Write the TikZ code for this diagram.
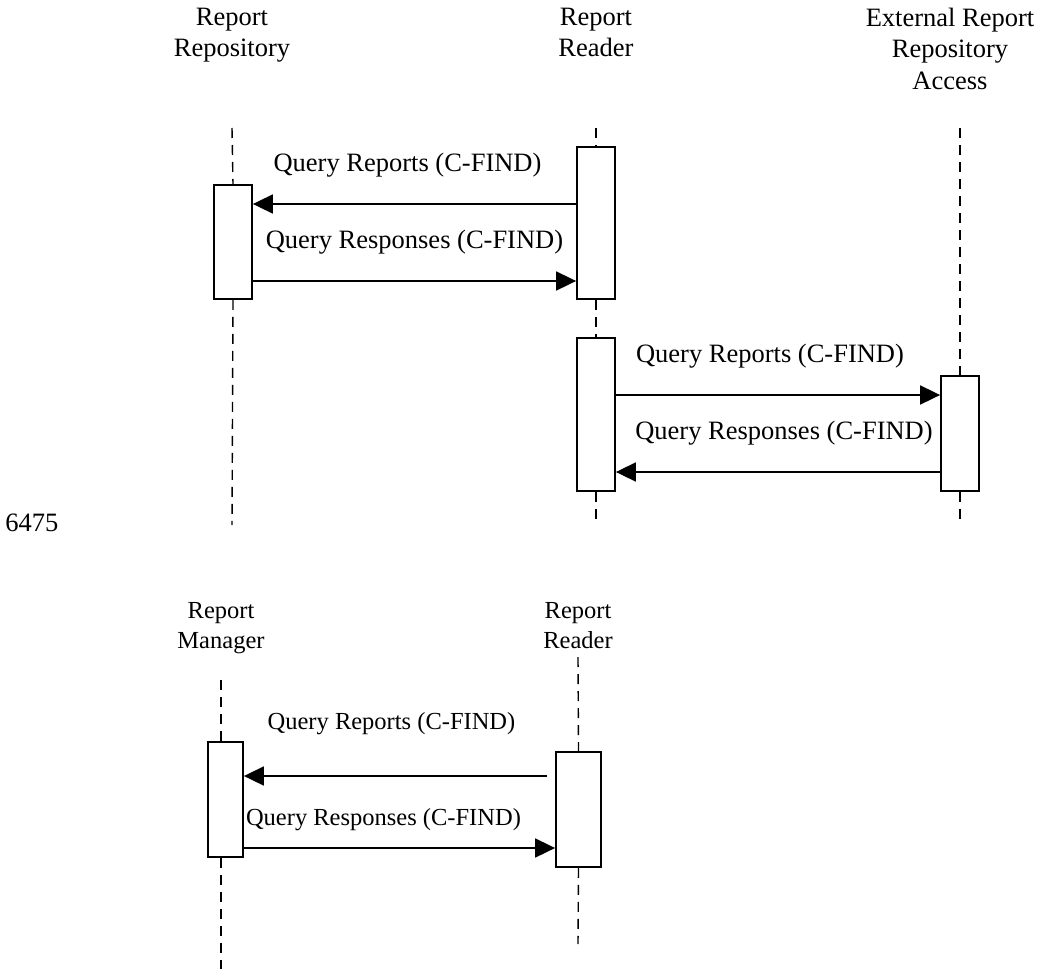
\documentclass[tikz,border=0pt]{standalone}
\usepackage{fontspec}
\setmainfont{Liberation Serif}
\usepackage{tikz}
\usetikzlibrary{arrows.meta, positioning}

\begin{document}
\begin{tikzpicture}[x=0.5pt, y=-0.5pt,
            head/.style={align=center, inner sep=0pt, anchor=north, font=\fontsize{13.25}{15.6}\selectfont},
            headsm/.style={align=center, inner sep=0pt, anchor=north, font=\fontsize{12.25}{15}\selectfont},
            lifeline/.style={line width=0.7pt, dash pattern=on 5pt off 3.5pt},
            actbox/.style={draw, rectangle, line width=0.9pt, fill=white, minimum width=19pt, inner sep=0pt},
            msg/.style={line width=0.9pt, -{Triangle[length=10pt, width=9.5pt]}},
            lbl/.style={inner sep=0pt, font=\fontsize{13.25}{15.5}\selectfont},
            lblsm/.style={inner sep=0pt, font=\fontsize{12.25}{15}\selectfont}]
            \useasboundingbox (0,0) rectangle (1038,969);

            % Headers, upper diagram
            \node (repo) [head] at (232,8) {Report\\Repository};
            \node (reader) [head] at (596,8) {Report\\Reader};
            \node (extacc) [head] at (950,8) {External Report\\Repository\\Access};
            \node (fignum) [lbl, anchor=west] at (5,523) {6475};

            % Activations
            \node (repoact) [actbox, minimum height=57pt] at (233,242) {};
            \node (readact) [actbox, minimum height=76pt] at (596,223) {};
            \node (readact2) [actbox, minimum height=76.5pt] at (596,414.5) {};
            \node (extact) [actbox, minimum height=57.5pt] at (960,433.5) {};

            % Lifelines
            \draw [lifeline] (repo.south |- 0,128) -- (repoact.north);
            \draw [lifeline] (repoact.south) -- (repo.south |- 0,525);
            \draw [lifeline] (reader.south |- 0,128) -- (readact.north);
            \draw [lifeline] (readact.south) -- (readact2.north);
            \draw [lifeline] (readact2.south) -- (reader.south |- 0,525);
            \draw [lifeline] (extact.center |- 0,128) -- (extact.north);
            \draw [lifeline] (extact.south) -- (extact.center |- 0,525);

            % Messages
            \draw [msg] (readact.west |- 0,204) -- node[lbl, above=13pt, xshift=-3.5pt] {Query Reports (C-FIND)} (repoact.east |- 0,204);
            \draw [msg] (repoact.east |- 0,281) -- node[lbl, above=13pt] {Query Responses (C-FIND)} (readact.west |- 0,281);
            \draw [msg] (readact2.east |- 0,395) -- node[lbl, above=13pt, xshift=-4pt] {Query Reports (C-FIND)} (extact.west |- 0,395);
            \draw [msg] (extact.west |- 0,472) -- node[lbl, above=13pt, xshift=3pt] {Query Responses (C-FIND)} (readact2.east |- 0,472);

            % Lower diagram
            \node (manager) [headsm] at (221,602) {Report\\Manager};
            \node (reader3) [headsm] at (578,602) {Report\\Reader};
            \node (mgract) [actbox, minimum width=17.5pt, minimum height=57.5pt] at (225.5,799.5) {};
            \node (readact3) [actbox, minimum width=22.5pt, minimum height=57.5pt] at (578.5,809.5) {};
            \draw [lifeline] (manager.south |- 0,680) -- (manager.south |- mgract.north);
            \draw [lifeline] (manager.south |- mgract.south) -- (manager.south |- 0,969);
            \draw [lifeline] (reader3.south |- 0,657) -- (readact3.north);
            \draw [lifeline] (readact3.south) -- (reader3.south |- 0,944);
            \draw [msg, shorten <=4pt] (readact3.west |- 0,776) -- node[lblsm, above=20pt, xshift=-4pt] {Query Reports (C-FIND)} (mgract.east |- 0,776);
            \draw [msg] (mgract.east |- 0,848) -- node[lblsm, above=8pt, xshift=-8pt] {Query Responses (C-FIND)} (readact3.west |- 0,848);
        \end{tikzpicture}
\end{document}
